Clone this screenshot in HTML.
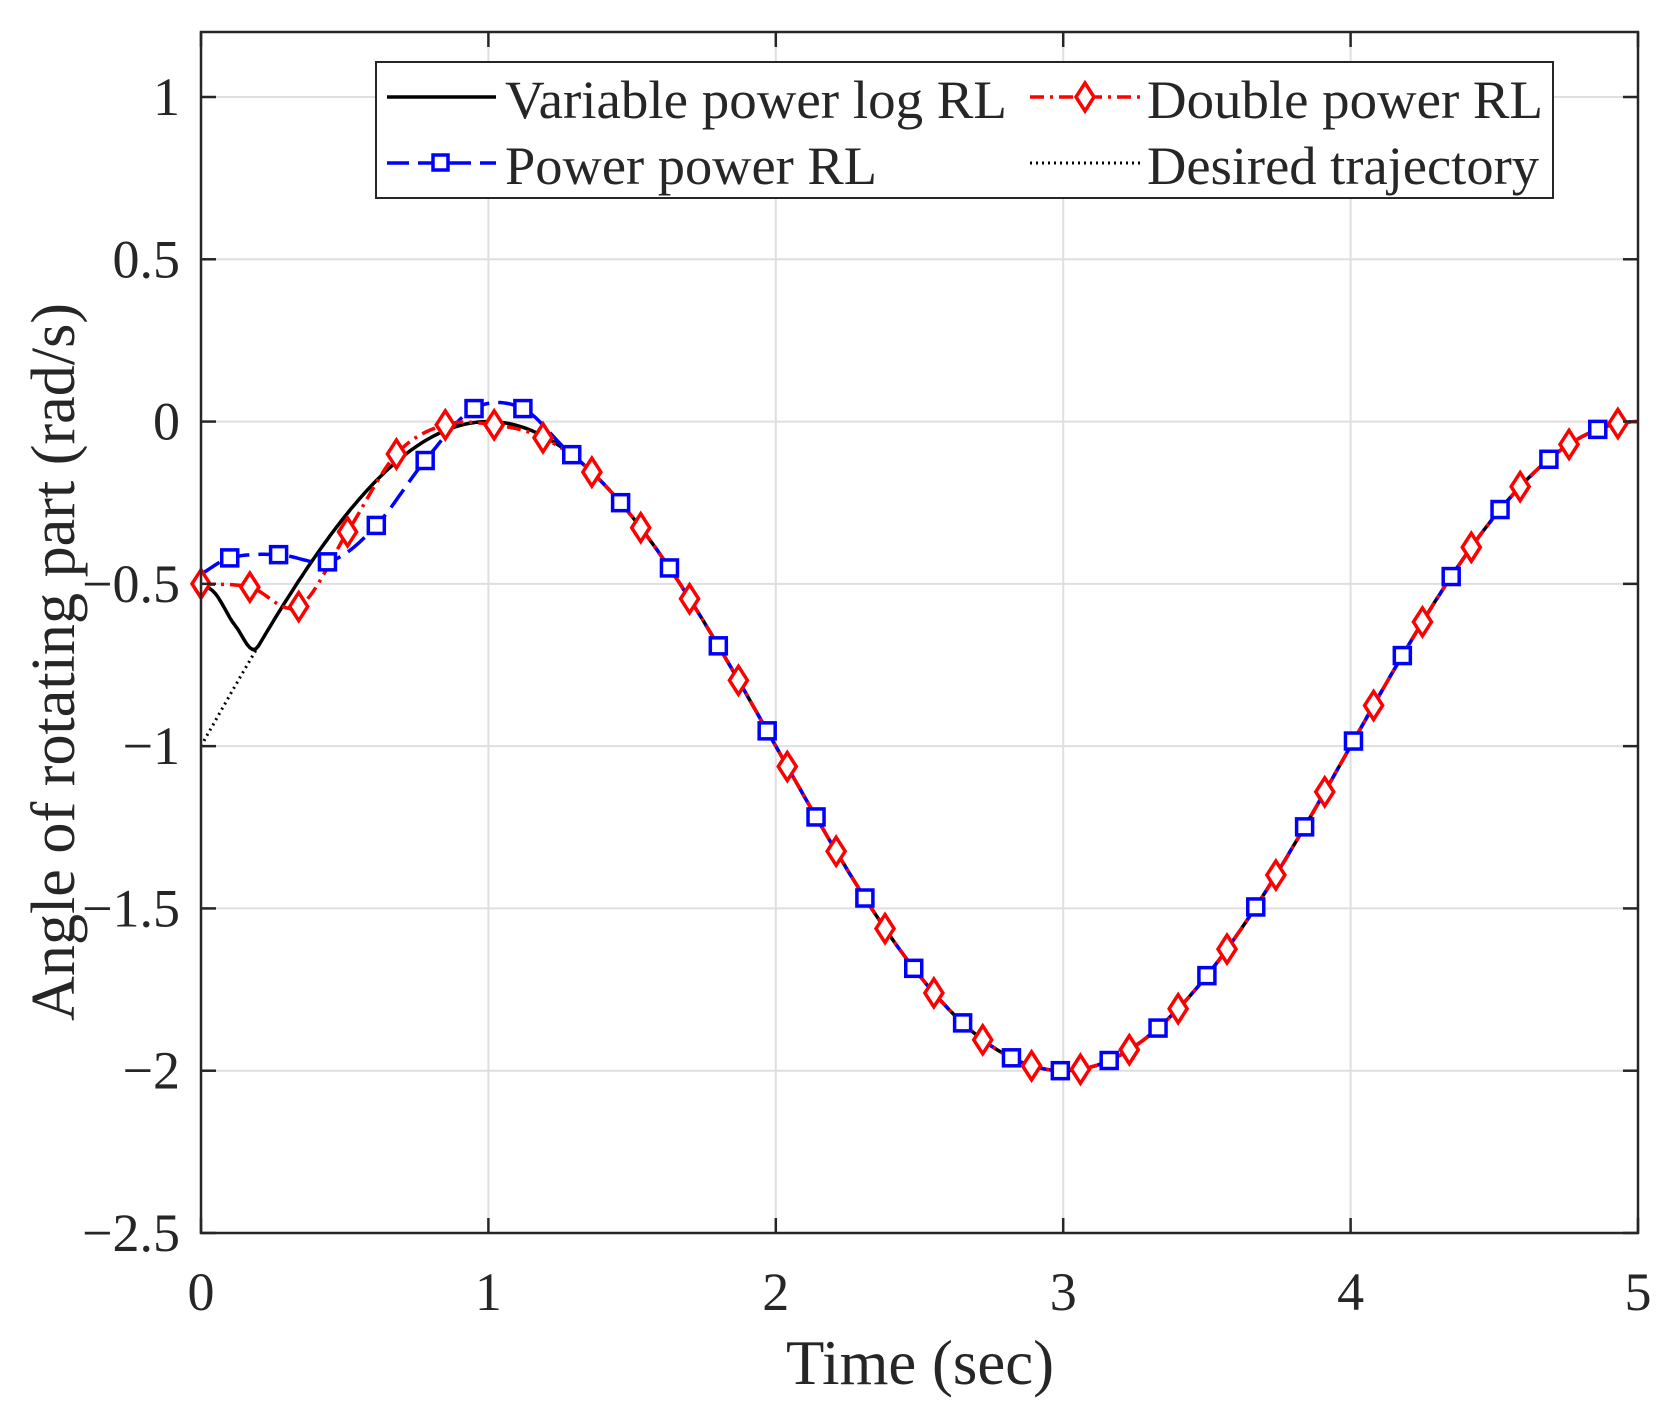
<!DOCTYPE html>
<html><head><meta charset="utf-8"><style>html,body{margin:0;padding:0;background:#fff}svg{display:block}text{font-family:"Liberation Serif",serif;fill:#262626}</style></head>
<body>
<svg id="s" width="1672" height="1412" xmlns="http://www.w3.org/2000/svg">
<g id="grid" stroke="#dfdfdf" stroke-width="2"></g>
<g id="curves" fill="none"></g>
<g id="ticks" stroke="#262626" stroke-width="2.5"></g>
<rect x="201" y="32" width="1437" height="1201" fill="none" stroke="#262626" stroke-width="2.5"/>
<g id="labels" font-size="54"></g>
<text x="920" y="1384" font-size="64" text-anchor="middle" textLength="268" lengthAdjust="spacingAndGlyphs">Time (sec)</text>
<text transform="translate(74,662) rotate(-90)" font-size="62" text-anchor="middle" textLength="718" lengthAdjust="spacingAndGlyphs">Angle of rotating part (rad/s)</text>
<g>
<rect x="376" y="62" width="1177" height="136" fill="#fff" stroke="#262626" stroke-width="2"/>
<line x1="387" y1="97" x2="496" y2="97" stroke="#000" stroke-width="3.5"/>
<text x="505" y="118" font-size="54" textLength="502" lengthAdjust="spacingAndGlyphs">Variable power log RL</text>
<line x1="1030" y1="97" x2="1140" y2="97" stroke="#f00" stroke-width="3.5" stroke-dasharray="14,6,3,6"/>
<path d="M1085,83 L1094,97 L1085,111 L1076,97Z" fill="#fff" stroke="#f00" stroke-width="3.5"/>
<text x="1147" y="118" font-size="54" textLength="396" lengthAdjust="spacingAndGlyphs">Double power RL</text>
<line x1="387" y1="163" x2="496" y2="163" stroke="#00f" stroke-width="3.5" stroke-dasharray="22,9"/>
<rect x="433" y="155" width="15" height="15" fill="#fff" stroke="#00f" stroke-width="3.5"/>
<text x="505" y="184" font-size="54" textLength="372" lengthAdjust="spacingAndGlyphs">Power power RL</text>
<line x1="1030" y1="163" x2="1140" y2="163" stroke="#000" stroke-width="3" stroke-dasharray="2,4"/>
<text x="1147" y="184" font-size="54" textLength="392" lengthAdjust="spacingAndGlyphs">Desired trajectory</text>
</g>
</svg>
<script>
var X=function(t){return 201+t*287.4},Y=function(v){return 97+(1-v)*324.57};
var NS="http://www.w3.org/2000/svg";
function el(p,n,a,txt){var e=document.createElementNS(NS,n);for(var k in a)e.setAttribute(k,a[k]);if(txt!==undefined)e.textContent=txt;document.getElementById(p).appendChild(e);return e;}
for(var i=1;i<5;i++)el("grid","line",{x1:X(i),x2:X(i),y1:32,y2:1233});
[1,0.5,0,-0.5,-1,-1.5,-2].forEach(function(v){el("grid","line",{x1:201,x2:1638,y1:Y(v),y2:Y(v)});});
for(var i=0;i<=5;i++){el("ticks","line",{x1:X(i),x2:X(i),y1:1233,y2:1218});el("ticks","line",{x1:X(i),x2:X(i),y1:32,y2:47});
el("labels","text",{x:X(i),y:1310,"text-anchor":"middle"},""+i);}
[1,0.5,0,-0.5,-1,-1.5,-2,-2.5].forEach(function(v){el("ticks","line",{x1:201,x2:216,y1:Y(v),y2:Y(v)});el("ticks","line",{x1:1638,x2:1623,y1:Y(v),y2:Y(v)});
var s=(v<0?"\u2212":"")+Math.abs(v);el("labels","text",{x:180,y:Y(v)+18,"text-anchor":"end"},s);});
function d(t){return Math.sin(Math.PI*t/2)-1;}
function mk(pts){var T=pts[pts.length-1][0];return function(t){if(t>=T)return d(t);
var i=0;while(pts[i+1][0]<t)i++;var p0=pts[Math.max(i-1,0)],p1=pts[i],p2=pts[i+1],p3=pts[Math.min(i+2,pts.length-1)];
var h=p2[0]-p1[0],u=(t-p1[0])/h;var m1=(p2[1]-p0[1])/(p2[0]-p0[0]||1)*h,m2=(p3[1]-p1[1])/(p3[0]-p1[0]||1)*h;
if(i+2>=pts.length){m2=Math.PI/2*Math.cos(Math.PI*p2[0]/2)*h;}
var u2=u*u,u3=u2*u;return (2*u3-3*u2+1)*p1[1]+(u3-2*u2+u)*m1+(-2*u3+3*u2)*p2[1]+(u3-u2)*m2;};}
var fk=mk([[0,-0.5],[0.05,-0.53],[0.12,-0.63],[0.2,d(0.2)]]);
var fb=mk([[0,-0.47],[0.1,-0.42],[0.27,-0.41],[0.45,-0.43],[0.61,-0.32],[0.78,-0.12],[0.95,0.04],[1.12,0.04],[1.29,d(1.29)]]);
var fr=mk([[0,-0.5],[0.17,-0.51],[0.34,-0.57],[0.51,-0.34],[0.68,-0.1],[0.85,-0.01],[1.02,-0.01],[1.19,-0.05],[1.36,d(1.36)]]);
function path(f,a){var s="";for(var t=0;t<=5.0001;t+=0.01){s+=(t==0?"M":"L")+X(t).toFixed(1)+","+Y(f(t)).toFixed(1);}a.d=s;return el("curves","path",a);}
path(d,{stroke:"#000","stroke-width":3,"stroke-dasharray":"2,4"});
path(fk,{stroke:"#000","stroke-width":3.5});
path(fb,{stroke:"#00f","stroke-width":3.5,"stroke-dasharray":"22,9"});
path(fr,{stroke:"#f00","stroke-width":3.5,"stroke-dasharray":"14,6,3,6"});
for(var k=0;k<=28;k++){var t=0.1+0.17*k;el("curves","rect",{x:X(t)-8,y:Y(fb(t))-8,width:16,height:16,fill:"#fff",stroke:"#00f","stroke-width":3.5});}
for(var k=0;k<=29;k++){var t=0.17*k;var x=X(t),y=Y(fr(t));el("curves","path",{d:"M"+x+","+(y-14)+"L"+(x+9)+","+y+"L"+x+","+(y+14)+"L"+(x-9)+","+y+"Z",fill:"#fff",stroke:"#f00","stroke-width":3.5});}
</script>
</body></html>
